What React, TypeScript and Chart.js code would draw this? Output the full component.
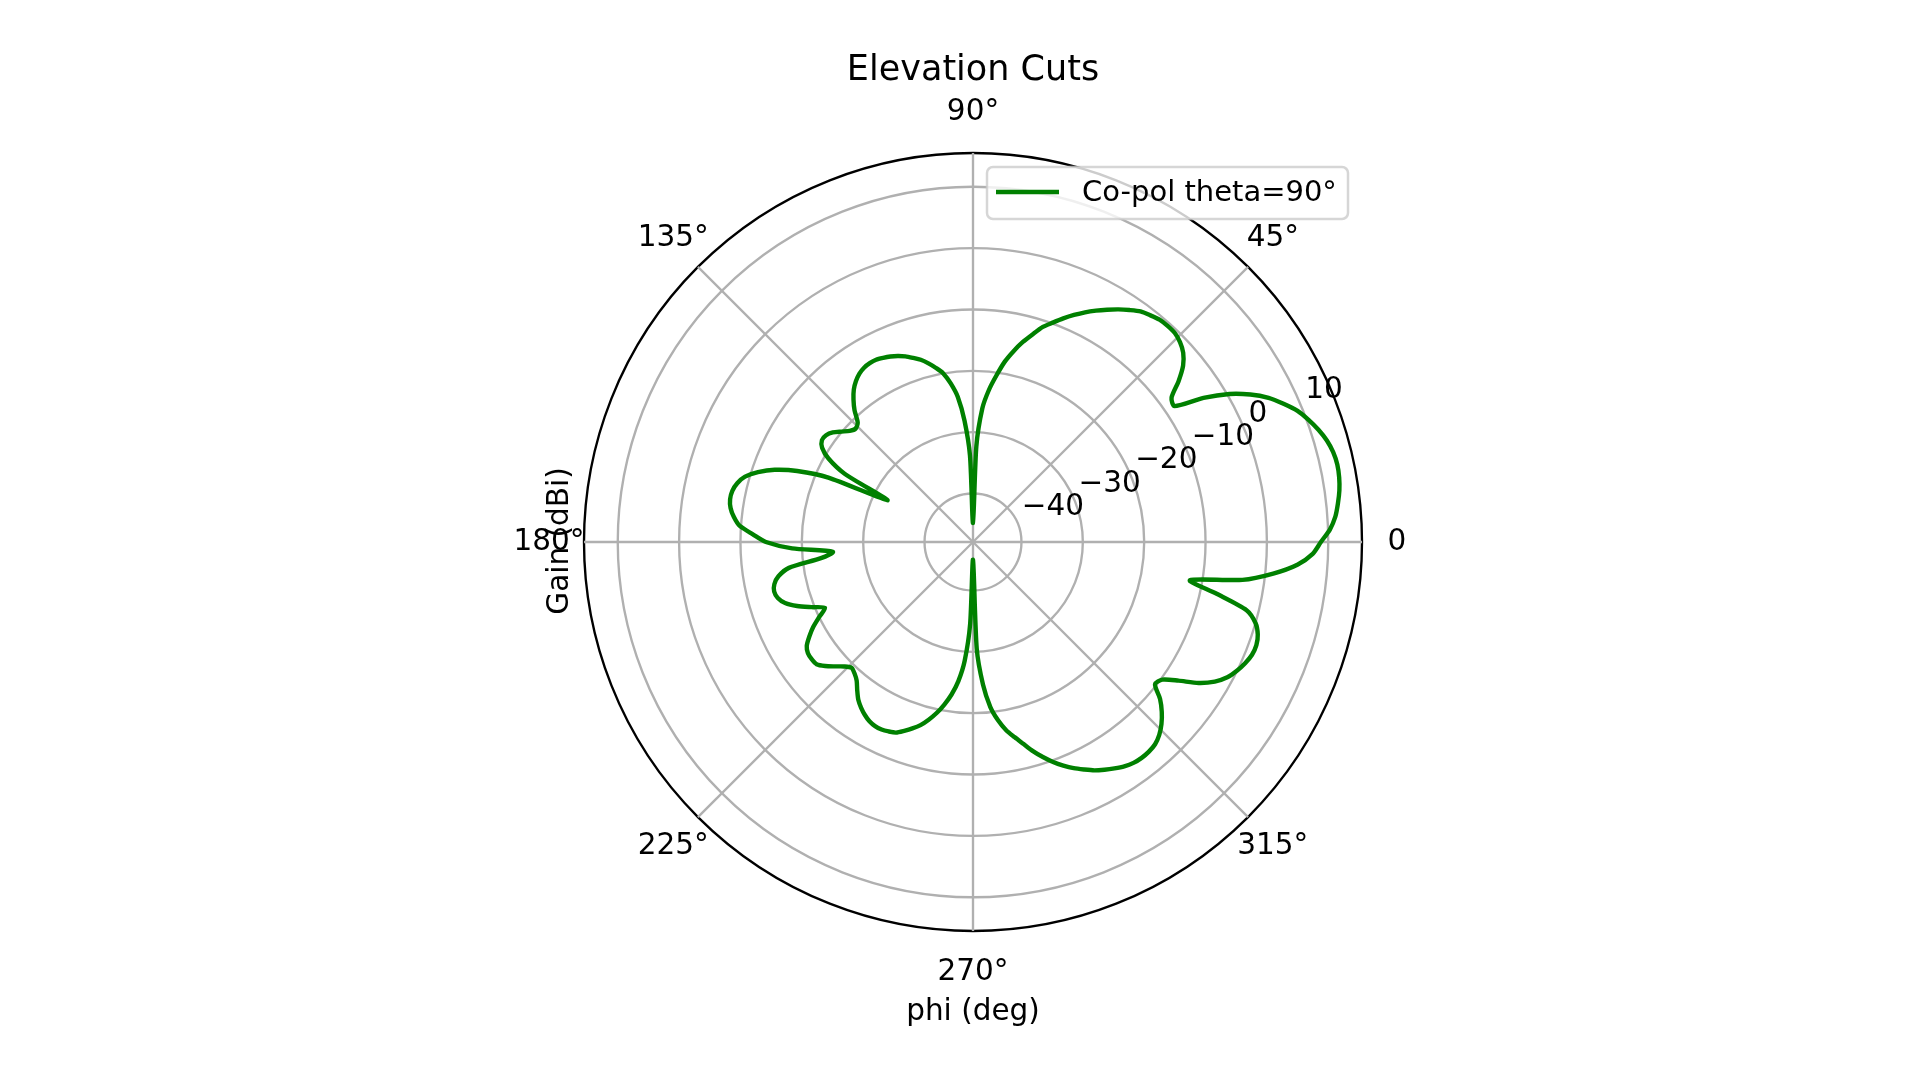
import { useEffect, useRef } from 'react';
import { Chart, registerables } from 'chart.js';

Chart.register(...registerables);

// ---- data -------------------------------------------------------------
const TITLE = 'Elevation Cuts';
const X_LABEL = 'phi (deg)';
const Y_LABEL = 'Gain (dBi)';
const SERIES_LABEL = 'Co-pol theta=90°';

const R_MIN = -47.9;
const R_MAX = 15.5;
const R_TICKS = [-40, -30, -20, -10, 0, 10];
const R_TICK_LABELS = ['−40', '−30', '−20', '−10', '0', '10'];
const THETA_TICKS = [0, 45, 90, 135, 180, 225, 270, 315];
const THETA_LABELS = ['0', '45°', '90°', '135°', '180°', '225°', '270°', '315°'];

const PHI_STEP = 2; // degrees between samples
// phi 0..88
const gainQ1 = [
  8.8, 10.3, 11.3, 11.9, 12.4, 12.7, 12.8, 12.6, 12.1, 11.3,
  10.3, 9.15, 7.5, 5.7, 3.3, 0.35, -3.6, -8.3, -7.9, -5.4,
  -3.2, -1.8, -1.0, -0.55, -0.5, -0.6, -1.0, -1.45, -2.3, -3.2,
  -4.2, -5.2, -6.25, -7.4, -8.6, -9.85, -11.05, -12.7, -14.3, -16.1,
  -18.05, -20.5, -22.95, -26.05, -32.3,
];
// phi 90..178
const gainQ2 = [
  -44.8, -33.8, -28.1, -24.1, -21.8, -20.0, -18.9, -17.9, -17.0, -16.35,
  -15.7, -15.2, -14.8, -14.5, -14.25, -14.25, -14.4, -14.8, -15.45, -16.35,
  -17.6, -19.05, -20.85, -21.3, -20.85, -19.9, -18.9, -18.3, -18.2, -18.9,
  -20.7, -24.2, -32.4, -22.1, -17.0, -13.5, -11.05, -9.25, -8.3, -7.8,
  -7.7, -8.0, -8.7, -9.75, -12.0,
];
// phi 180..268
const gainQ3 = [
  -14.15, -18.4, -25.0, -23.1, -17.6, -15.7, -14.8, -14.5, -14.8, -15.7,
  -17.4, -19.55, -21.5, -20.0, -18.4, -17.1, -15.95, -15.45, -15.4, -15.55,
  -16.45, -17.6, -18.7, -19.4, -19.05, -18.4, -17.25, -16.1, -15.3, -14.65,
  -14.15, -13.9, -13.9, -14.1, -14.4, -15.15, -15.95, -16.85, -18.05, -19.4,
  -21.0, -22.8, -25.1, -28.5, -34.5,
];
// phi 270..358
const gainQ4 = [
  -45.0, -30.5, -24.6, -20.85, -18.55, -16.75, -15.4, -14.0, -12.45, -11.05,
  -9.75, -8.6, -7.55, -6.65, -5.75, -5.05, -4.4, -3.8, -3.4, -3.25,
  -3.3, -3.55, -4.2, -5.2, -6.5, -8.1, -10.25, -9.75, -7.5, -4.55,
  -2.4, -0.95, -0.05, 0.65, 1.15, 1.25, 0.9, 0.0, -1.95, -7.3,
  -12.0, -3.55, 1.3, 5.1, 7.5,
];

// ---- styles -----------------------------------------------------------
const FONT = '"DejaVu Sans", "Liberation Sans", sans-serif';
const GREEN = '#008000';
const GRID = '#b0b0b0';

const gain = [...gainQ1, ...gainQ2, ...gainQ3, ...gainQ4];
// radar goes clockwise from startAngle; phi goes counter-clockwise from 0 (right)
const radarLabels: string[] = [];
const radarData: (number | null)[] = [];
for (let i = 0; i < 360; i++) {
  const phi = (360 - i) % 360;
  radarLabels.push(String(phi));
  radarData.push(phi % PHI_STEP === 0 ? gain[phi / PHI_STEP] : null);
}

const overlay = {
  id: 'overlay',
  afterDraw(chart: any) {
    const ctx: CanvasRenderingContext2D = chart.ctx;
    const s = chart.scales.r;
    const cx = s.xCenter;
    const cy = s.yCenter;
    const R = s.drawingArea;
    ctx.save();
    ctx.fillStyle = '#000';

    // theta tick labels
    ctx.font = `29.5px ${FONT}`;
    ctx.textAlign = 'center';
    ctx.textBaseline = 'alphabetic';
    THETA_TICKS.forEach((deg, k) => {
      const a = (deg * Math.PI) / 180;
      const x = cx + (R + 35) * Math.cos(a);
      const y = cy - (R + 41) * Math.sin(a);
      ctx.fillText(THETA_LABELS[k], x, y + 7.7);
    });

    // radial tick labels at 22.5°
    ctx.textAlign = 'left';
    const ra = (22.5 * Math.PI) / 180;
    R_TICKS.forEach((v, k) => {
      const d = s.getDistanceFromCenterForValue(v);
      const x = cx + d * Math.cos(ra);
      const y = cy - d * Math.sin(ra);
      ctx.fillText(R_TICK_LABELS[k], x + 4, y - 8);
    });

    // title
    ctx.textAlign = 'center';
    ctx.font = `35px ${FONT}`;
    ctx.fillText(TITLE, cx, cy - 462);

    // x label
    ctx.font = `29.5px ${FONT}`;
    ctx.fillText(X_LABEL, cx, cy + 478);

    // y label
    ctx.save();
    ctx.translate(cx - 405, cy - 1);
    ctx.rotate(-Math.PI / 2);
    ctx.fillText(Y_LABEL, 0, 0);
    ctx.restore();

    // legend
    const lx = cx + 14;
    const ly = cy - 375;
    const lw = 361;
    const lh = 52;
    ctx.beginPath();
    if ((ctx as any).roundRect) (ctx as any).roundRect(lx, ly, lw, lh, 6);
    else ctx.rect(lx, ly, lw, lh);
    ctx.fillStyle = 'rgba(255,255,255,0.8)';
    ctx.fill();
    ctx.lineWidth = 2.5;
    ctx.strokeStyle = 'rgba(204,204,204,0.8)';
    ctx.stroke();

    ctx.beginPath();
    ctx.moveTo(lx + 9, ly + 25);
    ctx.lineTo(lx + 72, ly + 25);
    ctx.strokeStyle = GREEN;
    ctx.lineWidth = 4.4;
    ctx.lineCap = 'butt';
    ctx.stroke();

    ctx.fillStyle = '#000';
    ctx.textAlign = 'left';
    ctx.font = `29px ${FONT}`;
    ctx.fillText(SERIES_LABEL, lx + 95, ly + 34);
    ctx.restore();
  },
};

export default function App() {
  const ref = useRef<HTMLCanvasElement | null>(null);

  useEffect(() => {
    if (!ref.current) return;
    const chart = new Chart(ref.current, {
      type: 'radar',
      data: {
        labels: radarLabels,
        datasets: [
          {
            label: SERIES_LABEL,
            data: radarData as any,
            borderColor: GREEN,
            backgroundColor: GREEN,
            borderWidth: 4.4,
            pointRadius: 0,
            pointHoverRadius: 0,
            fill: false,
            tension: 0.25,
            spanGaps: true,
            borderJoinStyle: 'round',
          } as any,
        ],
      },
      options: {
        responsive: false,
        animation: false,
        devicePixelRatio: 1,
        events: [],
        layout: { padding: { left: 584, right: 558, top: 153, bottom: 149 } },
        plugins: {
          legend: { display: false },
          title: { display: false },
          tooltip: { enabled: false },
        },
        scales: {
          r: {
            min: R_MIN,
            max: R_MAX,
            startAngle: 90,
            ticks: { display: false, stepSize: 10 },
            afterBuildTicks: (axis: any) => {
              axis.ticks = [...R_TICKS, R_MAX].map((v) => ({ value: v }));
            },
            grid: {
              circular: true,
              color: (c: any) => (c.tick && c.tick.value === R_MAX ? '#000000' : GRID),
              lineWidth: 2.36,
            },
            angleLines: {
              display: true,
              color: GRID,
              lineWidth: (c: any) => (c.index % 45 === 0 ? 2.36 : 0),
            },
            pointLabels: { display: false },
          } as any,
        },
      },
      plugins: [overlay],
    });
    return () => chart.destroy();
  }, []);

  return (
    <div
      style={{
        position: 'fixed',
        left: 0,
        top: 0,
        width: 1920,
        height: 1080,
        background: '#ffffff',
      }}
    >
      <canvas ref={ref} width={1920} height={1080} style={{ display: 'block', width: 1920, height: 1080 }} />
    </div>
  );
}
